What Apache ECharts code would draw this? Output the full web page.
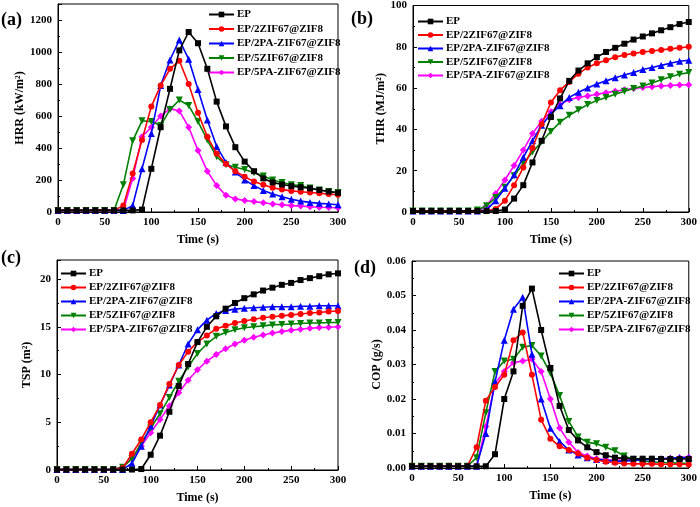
<!DOCTYPE html>
<html><head><meta charset="utf-8">
<script src="https://cdn.jsdelivr.net/npm/echarts@6/dist/echarts.min.js"></script>
<style>html,body{margin:0;padding:0;background:#fff}#c{width:700px;height:507px}</style>
</head><body><div id="c"></div>
<script>
const time = [0,10,20,30,40,50,60,70,80,90,100,110,120,130,140,150,160,170,180,190,200,210,220,230,240,250,260,270,280,290,300];
const names = ['EP','EP/2ZIF67@ZIF8','EP/2PA-ZIF67@ZIF8','EP/5ZIF67@ZIF8','EP/5PA-ZIF67@ZIF8'];

// (a) HRR (kW/m2)
const hrrEP    = [10,10,10,10,10,10,10,10,10,15,270,530,770,1010,1125,1055,895,690,535,405,315,255,210,185,172,162,155,148,138,128,120];
const hrr2ZIF  = [10,10,10,10,10,10,10,40,240,450,660,790,895,945,800,620,470,365,300,255,220,190,170,152,140,132,127,122,117,112,108];
const hrr2PA   = [10,10,10,10,10,10,10,10,40,270,490,790,950,1075,955,765,575,410,310,250,200,165,135,112,95,80,68,60,54,50,45];
const hrr5ZIF  = [10,10,10,10,10,10,10,170,445,570,565,540,640,700,665,565,450,345,295,280,265,245,225,200,185,170,165,150,138,128,122];
const hrr5PA   = [10,10,10,10,10,10,10,10,210,470,530,600,645,632,530,385,255,165,105,82,72,65,58,50,45,40,37,33,30,28,27];

// (b) THR (MJ/m2)
const thrEP    = [0.5,0.5,0.5,0.5,0.5,0.5,0.5,0.5,0.5,0.5,1.2,6.5,13,24,34.5,46,55,63.5,68.5,72,75,77.5,79.5,81.5,83.5,85,86.5,88,89.5,91,92];
const thr2ZIF  = [0.5,0.5,0.5,0.5,0.5,0.5,0.5,0.5,0.5,1.5,5.5,13,21.5,31,42.5,53,59,63,67,70,72,73.5,75,76,76.8,77.5,78,78.5,79,79.5,80];
const thr2PA   = [0.5,0.5,0.5,0.5,0.5,0.5,0.5,0.5,1,5.5,11.5,18,26.5,34.5,42,47.5,51.5,55.5,58,60,62,63.5,65,66.3,67.6,69,70,71,72,73,73.5];
const thr5ZIF  = [0.5,0.5,0.5,0.5,0.5,0.5,0.5,1,3,7,12,17.5,23.5,29,34,39,43.5,46.8,49.5,52,54,55.5,57,58.5,59.8,61,62.5,64,65.5,66.7,67.5];
const thr5PA   = [0.5,0.5,0.5,0.5,0.5,0.5,0.5,0.5,3,9,15.5,22.5,30,38,44,48.5,52,54.4,55.5,56.2,57,57.8,58.5,59.2,59.8,60.3,60.7,61,61.3,61.5,61.6];

// (c) TSP (m2)
const tspEP    = [0.05,0.05,0.05,0.05,0.05,0.05,0.05,0.05,0.05,0.1,1.6,3.6,6.1,8.8,11.1,13.4,15,16.1,16.9,17.5,18,18.4,18.8,19.1,19.4,19.6,19.9,20.1,20.3,20.5,20.6];
const tsp2ZIF  = [0.05,0.05,0.05,0.05,0.05,0.05,0.05,0.2,1.7,3.2,5,6.8,9,11,12.4,13.4,14.1,14.8,15.1,15.4,15.6,15.8,15.95,16.05,16.15,16.25,16.35,16.45,16.5,16.6,16.65];
const tsp2PA   = [0.05,0.05,0.05,0.05,0.05,0.05,0.05,0.05,0.7,2.5,4.6,6.8,8.9,11,13.2,14.7,15.7,16.4,16.7,16.85,16.95,17,17.05,17.1,17.1,17.1,17.15,17.15,17.2,17.2,17.2];
const tsp5ZIF  = [0.05,0.05,0.05,0.05,0.05,0.05,0.05,0.3,1.2,2.8,4.4,5.9,7.6,9.3,10.8,12.2,13.2,14,14.4,14.7,14.9,15,15.1,15.2,15.25,15.3,15.35,15.4,15.4,15.45,15.45];
const tsp5PA   = [0.05,0.05,0.05,0.05,0.05,0.05,0.05,0.3,1.2,2.5,3.9,5.3,6.7,8.1,9.4,10.5,11.4,12.1,12.7,13.2,13.6,13.9,14.15,14.35,14.5,14.65,14.75,14.85,14.92,14.96,15];

// (d) COP (g/s)
const copEP    = [0.0005,0.0005,0.0005,0.0005,0.0005,0.0005,0.0005,0.0005,0.0005,0.004,0.02,0.028,0.047,0.052,0.04,0.029,0.018,0.011,0.008,0.006,0.0046,0.0037,0.003,0.0028,0.0027,0.0027,0.0027,0.0026,0.0026,0.0026,0.0026];
const cop2ZIF  = [0.0005,0.0005,0.0005,0.0005,0.0005,0.0005,0.0005,0.006,0.0195,0.0235,0.027,0.037,0.0393,0.027,0.014,0.0085,0.0063,0.0052,0.0042,0.003,0.0023,0.0018,0.0015,0.0013,0.0012,0.0012,0.0012,0.0011,0.0011,0.0011,0.001];
const cop2PA   = [0.0005,0.0005,0.0005,0.0005,0.0005,0.0005,0.0005,0.0005,0.01,0.025,0.037,0.046,0.0495,0.033,0.02,0.0115,0.0077,0.0052,0.0038,0.003,0.0025,0.0022,0.002,0.002,0.0022,0.0024,0.0025,0.0027,0.0028,0.003,0.003];
const cop5ZIF  = [0.0005,0.0005,0.0005,0.0005,0.0005,0.0005,0.0005,0.003,0.016,0.028,0.031,0.0315,0.035,0.0355,0.0325,0.0275,0.021,0.0135,0.009,0.0075,0.007,0.006,0.005,0.0035,0.0025,0.002,0.0018,0.0016,0.0015,0.0014,0.0013];
const cop5PA   = [0.0005,0.0005,0.0005,0.0005,0.0005,0.0005,0.0005,0.0005,0.012,0.0245,0.028,0.0305,0.031,0.0315,0.028,0.02,0.0116,0.0075,0.0045,0.0035,0.0027,0.0024,0.0023,0.0023,0.0024,0.0025,0.0026,0.0027,0.0028,0.003,0.0031];

const panelLabels = ['(a)','(b)','(c)','(d)'];
const yNames = ['HRR (kW/m\u00B2)','THR (MJ/m\u00B2)','TSP (m\u00B2)','COP (g/s)'];

const panels = [
  [hrrEP,hrr2ZIF,hrr2PA,hrr5ZIF,hrr5PA],
  [thrEP,thr2ZIF,thr2PA,thr5ZIF,thr5PA],
  [tspEP,tsp2ZIF,tsp2PA,tsp5ZIF,tsp5PA],
  [copEP,cop2ZIF,cop2PA,cop5ZIF,cop5PA]
];

const FONT = 'Liberation Serif';
const colors = ['#000000','#ff0000','#0000ff','#008000','#ff00ff'];
const symbols = ['rect','circle','triangle','triangle','diamond'];
const rotates = [0,0,0,180,0];
const symSizes = [6,6,7,7,7];

const grids = [
  {left:58, top:4, width:280, height:208},
  {left:413, top:5, width:280, height:207},
  {left:57, top:260, width:281, height:210},
  {left:412, top:261, width:281, height:207}
];
const yCfg = [
  {max:1300, interval:200, gap:23, fmt:v=>String(v), hideMax:true},
  {max:100, interval:20, gap:25, fmt:v=>String(v), hideMax:false},
  {max:22, interval:5, gap:24, fmt:v=>String(v), hideMax:true},
  {max:0.06, interval:0.01, gap:27, fmt:v=>v.toFixed(2), hideMax:false}
];
const legendPos = [
  {left:208, top:9, itemGap:3.5},
  {left:417, top:16, itemGap:2.5},
  {left:60, top:268, itemGap:3},
  {left:558, top:268, itemGap:3}
];
const labelPos = [[1,11],[351,10],[1,249],[354,259]];

const txt = {fontFamily:FONT, fontWeight:'bold', color:'#000'};

const option = {
  backgroundColor:'#fff',
  animation:false,
  grid: grids.map(g=>Object.assign({show:true, borderColor:'#000', borderWidth:1, backgroundColor:'transparent'}, g)),
  xAxis: grids.map((g,i)=>({
    gridIndex:i, type:'value', min:0, max:300, interval:50,
    name:'Time (s)', nameLocation:'middle', nameGap:22,
    nameTextStyle:Object.assign({fontSize:12}, txt),
    axisLine:{show:true, lineStyle:{color:'#000', width:1}},
    axisTick:{show:true, inside:true, length:4, lineStyle:{color:'#000'}},
    minorTick:{show:true, splitNumber:2, length:2, lineStyle:{color:'#000'}},
    axisLabel:Object.assign({fontSize:11, margin:5}, txt),
    splitLine:{show:false}
  })),
  yAxis: grids.map((g,i)=>({
    gridIndex:i, type:'value', min:0, max:yCfg[i].max, interval:yCfg[i].interval,
    name:yNames[i], nameLocation:'middle', nameGap:yCfg[i].gap, nameRotate:90,
    nameTextStyle:Object.assign({fontSize:12}, txt),
    axisLine:{show:true, lineStyle:{color:'#000', width:1}},
    axisTick:{show:true, inside:true, length:4, lineStyle:{color:'#000'}},
    minorTick:{show:true, splitNumber:2, length:2, lineStyle:{color:'#000'}},
    axisLabel:Object.assign({fontSize:11, margin:6, showMaxLabel:!yCfg[i].hideMax, formatter:yCfg[i].fmt}, txt),
    splitLine:{show:false}
  })),
  legend: legendPos.map(p=>({
    orient:'vertical', left:p.left, top:p.top, itemGap:p.itemGap,
    itemWidth:25, itemHeight:7, padding:0,
    textStyle:Object.assign({fontSize:11, padding:[0,0,0,-2]}, txt),
    data:names, selectedMode:false
  })),
  graphic: panelLabels.map((t,i)=>({
    type:'text', left:labelPos[i][0], top:labelPos[i][1],
    style:{text:t, font:'bold 18px "Liberation Serif"', fill:'#000'}
  })),
  series: []
};

panels.forEach((arrs,pi)=>{
  arrs.forEach((vals,si)=>{
    option.series.push({
      type:'line', name:names[si], xAxisIndex:pi, yAxisIndex:pi,
      data: time.map((t,k)=>[t, vals[k]]),
      symbol:symbols[si], symbolRotate:rotates[si], symbolSize:symSizes[si],
      showAllSymbol:true,
      itemStyle:{color:colors[si]},
      lineStyle:{color:colors[si], width:1.6},
      z: 10 - si
    });
  });
});

const chart = echarts.init(document.getElementById('c'), null, {renderer:'canvas'});
chart.setOption(option);
</script>
</body></html>
